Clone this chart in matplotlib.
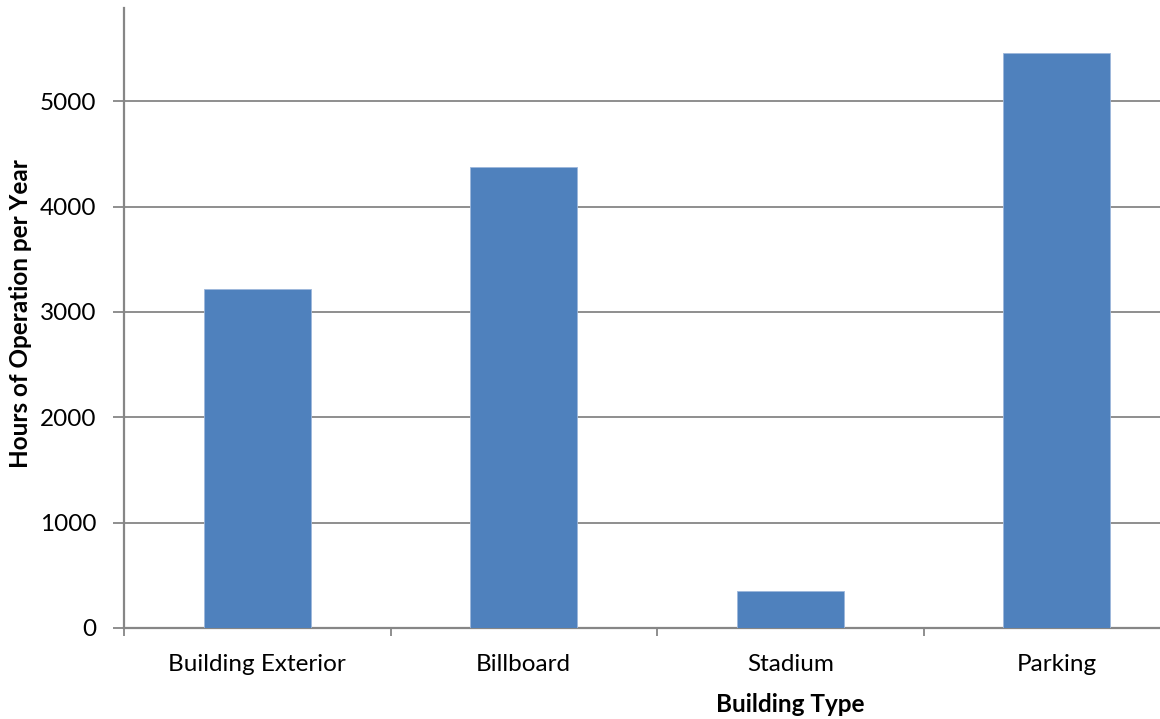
import matplotlib
matplotlib.use("Agg")
import matplotlib.pyplot as plt
import numpy as np

# Values
building_types = ["Building Exterior", "Billboard", "Stadium", "Parking"]
hours_per_year = [3220, 4380, 350, 5460]
y_ticks = [0, 1000, 2000, 3000, 4000, 5000]

BAR_COLOR = "#4F81BD"
AXIS_GRAY = "#868686"
FS = 17.5

plt.rcParams["font.family"] = ["Lato", "DejaVu Sans"]

W, H = 1160, 719
fig = plt.figure(figsize=(W / 100, H / 100), dpi=100)
# plot area runs past the right edge of the picture, as in the reference
left, right, top, bottom = 124, 1190, 8, 628
ax = fig.add_axes([left / W, 1 - bottom / H, (right - left) / W, (bottom - top) / H])

x = np.arange(len(building_types))
ax.bar(x, hours_per_year, width=0.4, color=BAR_COLOR, edgecolor="#9DB7DB",
       linewidth=0.6, zorder=3)

ax.set_xlim(-0.5, len(building_types) - 0.5)
ax.set_ylim(0, 5885)
ax.set_yticks(y_ticks)
ax.set_yticklabels([str(v) for v in y_ticks], fontsize=FS)
ax.grid(axis="y", color=AXIS_GRAY, linewidth=1.3, zorder=0)

# category labels at centres, tick marks between categories
ax.set_xticks(x)
ax.set_xticklabels(building_types, fontsize=FS)
ax.tick_params(axis="x", which="major", length=0, pad=19)
ax.set_xticks(np.arange(-0.5, len(building_types), 1.0), minor=True)
ax.tick_params(axis="x", which="minor", length=6, width=1.3, color=AXIS_GRAY,
               direction="out")
ax.tick_params(axis="y", length=8, width=1.3, color=AXIS_GRAY, pad=12)

for side in ["top", "right"]:
    ax.spines[side].set_visible(False)
for side in ["left", "bottom"]:
    ax.spines[side].set_color(AXIS_GRAY)
    ax.spines[side].set_linewidth(1.6)

ax.set_xlabel("Building Type", fontsize=FS, fontweight="bold")
ax.xaxis.set_label_coords((790 - left) / (right - left), -(693 - bottom) / (bottom - top))
ax.set_ylabel("Hours of Operation per Year", fontsize=FS, fontweight="bold")
ax.yaxis.set_label_coords(-(left - 32) / (right - left), (bottom - 314) / (bottom - top))

fig.savefig("out.png", dpi=100)
